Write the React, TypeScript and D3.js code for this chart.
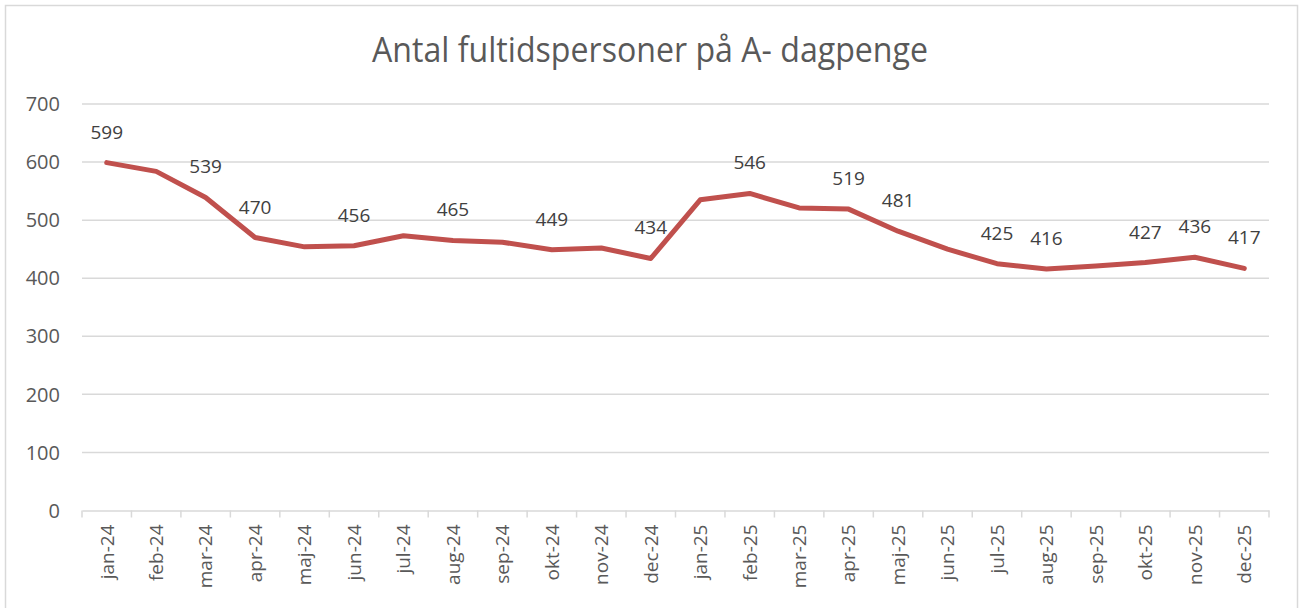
import React, { useEffect, useRef } from 'react';
import * as d3 from 'd3';

const months = [
  'jan-24', 'feb-24', 'mar-24', 'apr-24', 'maj-24', 'jun-24',
  'jul-24', 'aug-24', 'sep-24', 'okt-24', 'nov-24', 'dec-24',
  'jan-25', 'feb-25', 'mar-25', 'apr-25', 'maj-25', 'jun-25',
  'jul-25', 'aug-25', 'sep-25', 'okt-25', 'nov-25', 'dec-25',
];

const persons = [
  599, 584, 539, 470, 454, 456, 473, 465, 462, 449, 452, 434,
  535, 546, 521, 519, 481, 450, 425, 416, 421, 427, 436, 417,
];

// months that carry a data label in the original chart
const labelledMonths = [
  'jan-24', 'mar-24', 'apr-24', 'jun-24', 'aug-24', 'okt-24', 'dec-24',
  'feb-25', 'apr-25', 'maj-25', 'jul-25', 'aug-25', 'okt-25', 'nov-25', 'dec-25',
];

const yTicks = [0, 100, 200, 300, 400, 500, 600, 700];

const title = 'Antal fultidspersoner på A- dagpenge';

const W = 1300;
const H = 608;
const FONT = '"Open Sans", "Noto Sans", sans-serif';
const TEXT = '#595959';
const GRID = '#D9D9D9';
const LINE = '#C0504D';

const App = () => {
  const svgRef = useRef<SVGSVGElement>(null);

  useEffect(() => {
    const svg = d3.select(svgRef.current);
    svg.selectAll('*').remove();

    const left = 82, right = 1269, top = 104, bottom = 510.5;

    const x = d3.scaleBand().domain(months).range([left, right]);
    const y = d3.scaleLinear().domain([0, 700]).range([bottom, top]);
    const cx = (m: string) => (x(m) as number) + x.bandwidth() / 2;

    // chart frame
    svg.append('rect')
      .attr('x', 5.5).attr('y', 5.5)
      .attr('width', 1292).attr('height', 620)
      .attr('fill', '#fff').attr('stroke', GRID).attr('stroke-width', 1.5);

    // title
    svg.append('text')
      .attr('x', 650).attr('y', 62)
      .attr('text-anchor', 'middle')
      .attr('font-family', FONT).attr('font-size', 34)
      .attr('textLength', 556).attr('lengthAdjust', 'spacingAndGlyphs')
      .attr('fill', TEXT)
      .text(title);

    // gridlines
    svg.append('g')
      .selectAll('line')
      .data(yTicks.filter(t => t > 0))
      .join('line')
      .attr('x1', left).attr('x2', right)
      .attr('y1', d => y(d)).attr('y2', d => y(d))
      .attr('stroke', GRID).attr('stroke-width', 1.5);

    // y labels
    svg.append('g')
      .selectAll('text')
      .data(yTicks)
      .join('text')
      .attr('x', 60).attr('y', d => y(d))
      .attr('dy', '0.36em')
      .attr('text-anchor', 'end')
      .attr('font-family', FONT).attr('font-size', 20)
      .attr('fill', TEXT)
      .text(d => d);

    // x axis
    const xAxis = d3.axisBottom(x).tickSize(7).tickSizeOuter(0).tickFormat(() => '');
    const gx = svg.append('g').attr('transform', `translate(0,${bottom})`).call(xAxis);
    gx.select('.domain').attr('stroke', GRID).attr('stroke-width', 1.5);
    // ticks sit on band boundaries
    gx.selectAll('.tick').remove();
    gx.append('g')
      .selectAll('line')
      .data([...months.map(m => x(m) as number), right])
      .join('line')
      .attr('x1', d => d).attr('x2', d => d)
      .attr('y1', 0).attr('y2', 7)
      .attr('stroke', GRID).attr('stroke-width', 1.5);

    svg.append('g')
      .selectAll('text')
      .data(months)
      .join('text')
      .attr('transform', d => `translate(${cx(d)},${bottom + 14}) rotate(-90)`)
      .attr('dy', '0.36em')
      .attr('text-anchor', 'end')
      .attr('font-family', FONT).attr('font-size', 19)
      .attr('fill', TEXT)
      .text(d => d);

    // line
    const line = d3.line<number>()
      .x((_, i) => cx(months[i]))
      .y(d => y(d));

    svg.append('path')
      .datum(persons)
      .attr('d', line)
      .attr('fill', 'none')
      .attr('stroke', LINE)
      .attr('stroke-width', 5)
      .attr('stroke-linejoin', 'round')
      .attr('stroke-linecap', 'round');

    // data labels
    svg.append('g')
      .selectAll('text')
      .data(months.map((m, i) => ({ m, v: persons[i] })).filter(d => labelledMonths.includes(d.m)))
      .join('text')
      .attr('x', d => cx(d.m))
      .attr('y', d => y(d.v) - 24)
      .attr('text-anchor', 'middle')
      .attr('font-family', FONT).attr('font-size', 19)
      .attr('fill', '#404040')
      .text(d => d.v);
  }, []);

  return (
    <svg
      ref={svgRef}
      width={W}
      height={H}
      style={{ position: 'absolute', left: 0, top: 0, display: 'block' }}
    />
  );
};

export default App;
